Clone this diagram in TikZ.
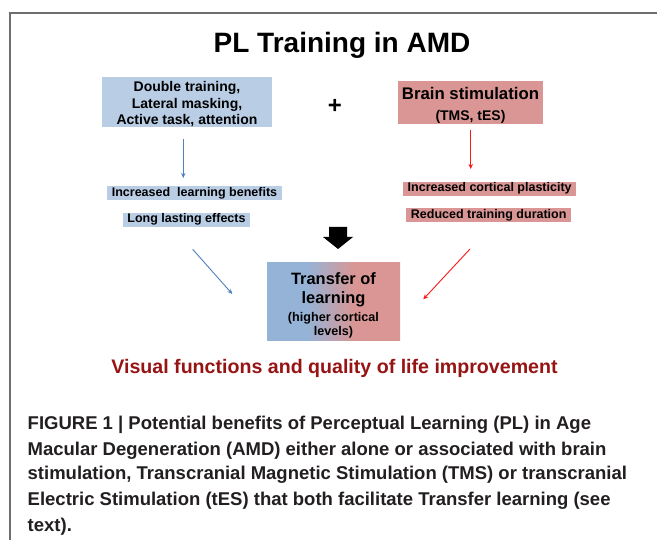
\documentclass[tikz,border=0pt]{standalone}
\usepackage{fontspec}
\setmainfont{Liberation Sans}
\usetikzlibrary{calc,arrows.meta}
\definecolor{boxblue}{RGB}{185,205,229}
\definecolor{boxred}{RGB}{217,150,148}
\definecolor{arrblue}{RGB}{79,129,189}
\definecolor{arrred}{RGB}{250,25,25}
\definecolor{tblue}{RGB}{149,179,215}
\definecolor{darkred}{RGB}{150,20,20}
\definecolor{capgray}{RGB}{35,31,32}
\definecolor{framegray}{RGB}{110,110,110}
\pgfdeclarehorizontalshading{transshade}{100bp}{color(0bp)=(tblue); color(40bp)=(tblue); color(58bp)=(boxred); color(100bp)=(boxred)}
\begin{document}
\begin{tikzpicture}[x=1pt,y=-1pt,
  every node/.style={inner sep=0pt, outer sep=0pt},
  bigbox/.style={align=center, font=\bfseries},
  lbl/.style={font=\bfseries\fontsize{12.5}{14}\selectfont, inner xsep=4.5pt, inner ysep=1pt, text height=9.2pt, text depth=2.8pt},
  barrow/.style={draw=arrblue, line width=0.9pt, -{Stealth[length=5pt,width=4.5pt]}},
  rarrow/.style={draw=arrred, line width=0.9pt, -{Stealth[length=5pt,width=4.5pt]}},
  capline/.style={anchor=base west, text=capgray, font=\bfseries\fontsize{18.5}{25}\selectfont}
]
\useasboundingbox (0,0) rectangle (657,540);
\fill[white] (0,0) rectangle (657,540);
\draw[framegray, line width=1.4pt] (657,13) -- (10,13) -- (10,540);

\node[font=\bfseries\fontsize{28}{32}\selectfont, anchor=base] (title) at (342,53) {PL Training in AMD};

\node[bigbox, fill=boxblue, minimum width=170pt, minimum height=50pt, font=\bfseries\fontsize{14}{16.5}\selectfont] (b1) at (187,102) {\rule{0pt}{14.3pt}Double training,\\Lateral masking,\\Active task, attention};

\node[font=\bfseries\fontsize{24}{24}\selectfont] (plus) at (335,106.5) {+};

\node[bigbox, fill=boxred, minimum width=145pt, minimum height=42pt, font=\bfseries\fontsize{16.8}{20.5}\selectfont] (b2) at (470.5,102.5) {\rule{0pt}{18.5pt}Brain stimulation\\[0.5pt]{\fontsize{14}{20.5}\selectfont (TMS, tES)}};

\node[lbl, fill=boxblue] (l1) at (194.5,193.3) {Increased\ \ learning benefits};
\node[lbl, fill=boxblue] (l2) at (186.5,219.8) {Long lasting effects};
\node[lbl, fill=boxred] (r1) at (489.7,188.8) {Increased cortical plasticity};
\node[lbl, fill=boxred] (r2) at (488.7,215.3) {Reduced training duration};

\coordinate (ax1) at (183.3,0);
\coordinate (ax2) at (470.7,0);
\draw[barrow, shorten <=12pt, shorten >=8.3pt] (b1.south -| ax1) -- (l1.north -| ax1);
\draw[rarrow, shorten <=6.5pt, shorten >=12.8pt] (b2.south -| ax2) -- (r1.north -| ax2);

\node[bigbox, shading=transshade, minimum width=133pt, minimum height=77.7pt, font=\bfseries\fontsize{16.4}{19.3}\selectfont] (tr) at (333.5,301.8)
  {\rule{0pt}{18.8pt}Transfer of\\learning\\[-1.6pt]{\fontsize{12.6}{14.7}\selectfont (higher cortical}\\[-4.6pt]{\fontsize{12.6}{14.7}\selectfont levels)}};

\fill[black] (329,227) -- (347,227) -- (347,237) -- (353,237) -- (338,249) -- (323,237) -- (329,237) -- cycle;

\draw[barrow] ($(l2.south)+(6.2,22.5)$) -- ($(tr.west)+(-34.7,-7.8)$);
\draw[rarrow] ($(r2.south)+(-18.7,26.7)$) -- ($(tr.east)+(23.3,-2.5)$);

\node[font=\bfseries\fontsize{19.6}{22}\selectfont, text=darkred, anchor=base] (vis) at (334.5,374) {Visual functions and quality of life improvement};

\node[capline] (c1) at (27.7,430) {FIGURE 1 | Potential benefits of Perceptual Learning (PL) in Age};
\node[capline] (c2) at (27.7,455.3) {Macular Degeneration (AMD) either alone or associated with brain};
\node[capline] (c3) at (27.7,480) {stimulation, Transcranial Magnetic Stimulation (TMS) or transcranial};
\node[capline] (c4) at (27.7,505.3) {Electric Stimulation (tES) that both facilitate Transfer learning (see};
\node[capline] (c5) at (27.7,531) {text).};
\end{tikzpicture}
\end{document}
